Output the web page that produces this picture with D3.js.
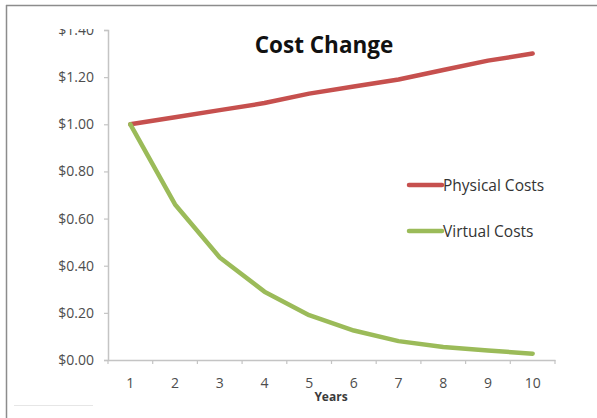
<!DOCTYPE html>
<html>
<head>
<meta charset="utf-8">
<script src="https://cdn.jsdelivr.net/npm/d3@7"></script>
<style>
  html, body { margin: 0; padding: 0; background: #fff; }
  svg { display: block; }
</style>
</head>
<body>
<svg id="chart" width="597" height="418"></svg>
<script>
// Cost index per year, starting from $1.00 in year 1
const years = [1, 2, 3, 4, 5, 6, 7, 8, 9, 10];
const physicalCosts = [1.00, 1.03, 1.06, 1.09, 1.13, 1.16, 1.19, 1.23, 1.27, 1.30];
const virtualCosts = [1.00, 0.66, 0.435, 0.29, 0.19, 0.125, 0.08, 0.055, 0.04, 0.027];
const yTicks = [0, 0.2, 0.4, 0.6, 0.8, 1.0, 1.2, 1.4];
const seriesNames = ["Physical Costs", "Virtual Costs"];
const seriesColors = ["#c6504e", "#9bbb59"];

const svg = d3.select("#chart");
const font = "'Open Sans', 'Noto Sans', sans-serif";

const plot = { left: 108, right: 555, top: 30, bottom: 360 };

// the top tick label is cut by the upper edge of the panel
// (clip rect is in the y-axis group's local coordinates)
svg.append("defs").append("clipPath").attr("id", "panelClip")
  .append("rect").attr("x", -plot.left).attr("y", 29).attr("width", 597).attr("height", 389);

// outer frame (top and left edges)
svg.append("line").attr("x1", 6).attr("x2", 597).attr("y1", 5.5).attr("y2", 5.5)
  .attr("stroke", "#8c8c8c").attr("stroke-width", 1.5);
svg.append("line").attr("x1", 6.5).attr("x2", 6.5).attr("y1", 5).attr("y2", 418)
  .attr("stroke", "#8c8c8c").attr("stroke-width", 1.5);
svg.append("line").attr("x1", 14).attr("x2", 93).attr("y1", 405.5).attr("y2", 405.5)
  .attr("stroke", "#e6e6e6").attr("stroke-width", 1);

const x = d3.scaleBand().domain(years).range([plot.left, plot.right]);
const y = d3.scaleLinear().domain([0, 1.4]).range([plot.bottom, plot.top]);

const axisColor = "#c4c4c4";
const labelColor = "#4d4d4d";

// y axis
const yAxis = svg.append("g")
  .attr("transform", `translate(${plot.left},0)`)
  .attr("clip-path", "url(#panelClip)")
  .call(d3.axisLeft(y).tickValues(yTicks).tickSize(4).tickPadding(10)
    .tickFormat(d => "$" + d.toFixed(2)));
yAxis.select(".domain").attr("stroke", axisColor).attr("stroke-width", 1.5);
yAxis.selectAll(".tick line").attr("stroke", axisColor).attr("stroke-width", 1.2);
yAxis.selectAll(".tick text").attr("fill", labelColor)
  .style("font-family", font).style("font-size", "14px");

// x axis: ticks sit on band boundaries, labels centred in bands
const xAxis = svg.append("g")
  .attr("transform", `translate(0,${plot.bottom})`)
  .call(d3.axisBottom(x).tickSize(0).tickPadding(18));
xAxis.select(".domain").attr("stroke", axisColor).attr("stroke-width", 1.5);
xAxis.selectAll(".tick text").attr("fill", labelColor)
  .style("font-family", font).style("font-size", "14px");
const bounds = years.map(d => x(d)).concat([x(years[years.length - 1]) + x.bandwidth()]);
xAxis.selectAll(".bnd").data(bounds).enter().append("line")
  .attr("x1", d => d).attr("x2", d => d).attr("y1", 0).attr("y2", 4)
  .attr("stroke", axisColor).attr("stroke-width", 1.2);

svg.append("text").attr("x", 331).attr("y", 401).attr("text-anchor", "middle")
  .style("font-family", font).style("font-size", "12px").style("font-weight", "bold")
  .attr("fill", "#3a3a3a").text("Years");

// series lines
const line = d3.line()
  .x((d, i) => x(years[i]) + x.bandwidth() / 2)
  .y(d => y(d));

[physicalCosts, virtualCosts].forEach((vals, i) => {
  svg.append("path").datum(vals)
    .attr("d", line)
    .attr("fill", "none")
    .attr("stroke", seriesColors[i])
    .attr("stroke-width", 4.5)
    .attr("stroke-linejoin", "round")
    .attr("stroke-linecap", "round");
});

// title
svg.append("text").attr("x", 324).attr("y", 53).attr("text-anchor", "middle")
  .style("font-family", font).style("font-size", "22.5px").style("font-weight", "bold")
  .attr("fill", "#111").text("Cost Change");

// legend
const legendY = [185, 231];
seriesNames.forEach((name, i) => {
  svg.append("line").attr("x1", 409).attr("x2", 442)
    .attr("y1", legendY[i]).attr("y2", legendY[i])
    .attr("stroke", seriesColors[i]).attr("stroke-width", 4.5)
    .attr("stroke-linecap", "round");
  svg.append("text").attr("x", 443).attr("y", legendY[i] + 5.5)
    .style("font-family", font).style("font-size", "15.5px")
    .attr("fill", "#333").text(name);
});
</script>
</body>
</html>
